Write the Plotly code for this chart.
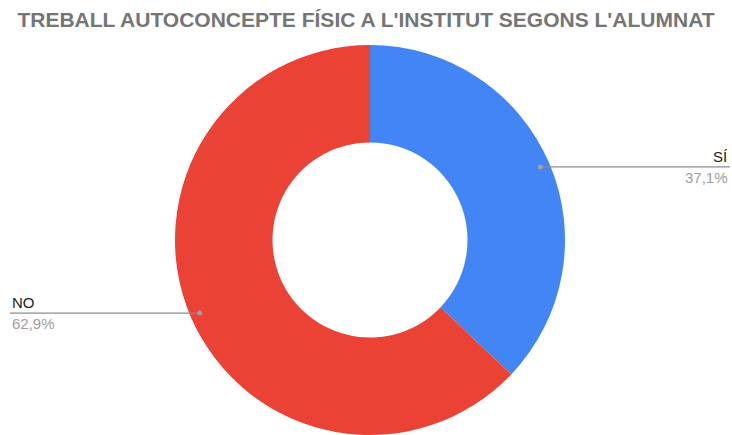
import math
import plotly.graph_objects as go

labels = ["SÍ", "NO"]
values = [37.1, 62.9]
colors = ["#4285F4", "#EA4335"]
title = "TREBALL AUTOCONCEPTE FÍSIC A L'INSTITUT SEGONS L'ALUMNAT"

W, H = 732, 435
MT = 45
PH = H - MT
cx_px, cy_px = 370.0, MT + PH / 2.0
R = PH / 2.0

fig = go.Figure()
fig.add_trace(go.Pie(
    labels=labels, values=values, hole=0.5, sort=False,
    direction="clockwise", rotation=0,
    marker=dict(colors=colors, line=dict(width=0)),
    textinfo="none", hoverinfo="label+percent",
    domain=dict(x=[(cx_px - (W - cx_px)) / W, 1], y=[0, 1]),
    showlegend=False,
))

def px2paper(x, y):
    return x / W, (H - y) / PH

total = sum(values)
cum = 0.0
shapes = []
annotations = []
for lab, v in zip(labels, values):
    mid = (cum + v / 2) / total
    cum += v
    ang = math.radians(90 - mid * 360)
    dx = cx_px + 0.95 * R * math.cos(ang)
    dy = cy_px - 0.95 * R * math.sin(ang)
    pct = f"{v / total * 100:.1f}".replace(".", ",") + "%"
    if math.cos(ang) >= 0:
        x0, x1 = dx, W - 2
        tx, anchor = W - 2, "right"
    else:
        x0, x1 = 10, dx
        tx, anchor = 10, "left"
    p0 = px2paper(x0, dy)
    p1 = px2paper(x1, dy)
    shapes.append(dict(type="line", xref="paper", yref="paper",
                       x0=p0[0], y0=p0[1], x1=p1[0], y1=p1[1],
                       line=dict(color="#8c8c8c", width=1.2)))
    c0 = px2paper(dx - 2.5, dy - 2.5)
    c1 = px2paper(dx + 2.5, dy + 2.5)
    shapes.append(dict(type="circle", xref="paper", yref="paper",
                       x0=c0[0], y0=c1[1], x1=c1[0], y1=c0[1],
                       fillcolor="#a0a0a0", line=dict(width=0)))
    tp = px2paper(tx, dy)
    annotations.append(dict(xref="paper", yref="paper", x=tp[0], y=tp[1],
                            xanchor=anchor, yanchor="bottom", yshift=0,
                            text=lab, showarrow=False,
                            font=dict(family="Liberation Sans, Arial", size=15, color="#222222")))
    annotations.append(dict(xref="paper", yref="paper", x=tp[0], y=tp[1],
                            xanchor=anchor, yanchor="top", yshift=0,
                            text=pct, showarrow=False,
                            font=dict(family="Liberation Sans, Arial", size=15, color="#9e9e9e")))

fig.update_layout(
    width=W, height=H,
    margin=dict(l=0, r=0, t=MT, b=0),
    paper_bgcolor="white", plot_bgcolor="white",
    title=dict(text=f"<b>{title}</b>", x=366 / W, xanchor="center", y=1 - 19.5 / H, yanchor="middle",
               font=dict(family="Liberation Sans, Arial", size=21, color="#757575")),
    shapes=shapes, annotations=annotations,
)

fig.write_html("out.html", config={"displayModeBar": False},
               post_script="document.body.style.margin='0';document.body.style.overflow='hidden';")
